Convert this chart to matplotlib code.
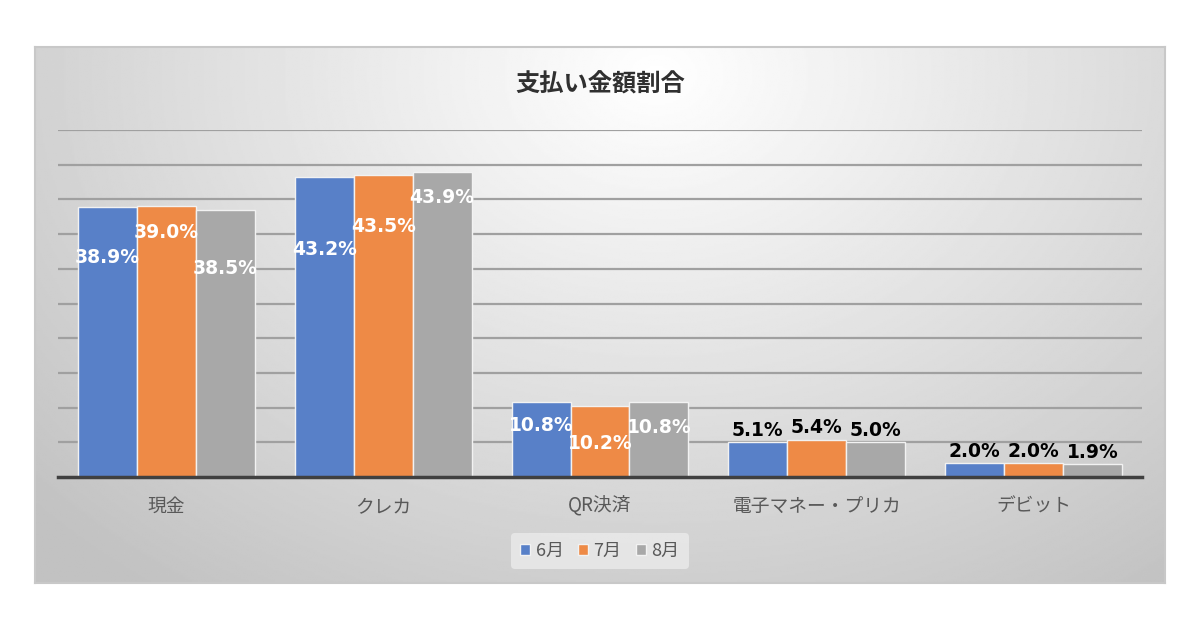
import numpy as np
import matplotlib
matplotlib.use("Agg")
import matplotlib.pyplot as plt

plt.rcParams['font.family'] = ['Noto Sans CJK JP', 'DejaVu Sans']

# データ
categories = ['現金', 'クレカ', 'QR決済', '電子マネー・プリカ', 'デビット']
months = ['6月', '7月', '8月']
june = [38.9, 43.2, 10.8, 5.1, 2.0]
july = [39.0, 43.5, 10.2, 5.4, 2.0]
august = [38.5, 43.9, 10.8, 5.0, 1.9]

colors = ['#5880C8', '#EE8A46', '#A8A8A8']

# ラベルのずれ（ポイント、バー上端から）
label_offsets = [
    [-36, -52, -17, 1.5, 1.5],
    [-19, -37, -27, 1.5, 1.5],
    [-42, -18, -18, 1.5, 1.5],
]

fig = plt.figure(figsize=(12, 6.3), dpi=100)
fig.patch.set_facecolor('white')

# 背景パネル（グラデーション）
bg = fig.add_axes([35 / 1200, 47 / 630, 1130 / 1200, 536 / 630], zorder=0)
yy, xx = np.mgrid[0:1:300j, 0:1:600j]
d = np.sqrt(((xx - 0.55) / 0.75) ** 2 + ((yy - 0.05) / 1.2) ** 2)
shade = np.clip(1.0 - 0.24 * d, 0.76, 1.0)
bg.imshow(shade, cmap='gray', vmin=0, vmax=1, aspect='auto',
          extent=[0, 1, 0, 1], origin='upper')
bg.set_xticks([])
bg.set_yticks([])
for s in bg.spines.values():
    s.set_color('#c8c8c8')
    s.set_linewidth(1.5)

ax = fig.add_axes([58 / 1200, 1 - 477 / 630, 1084 / 1200, 347 / 630], zorder=1)
ax.patch.set_alpha(0)

x = np.arange(len(categories))
w = 0.272
series = [june, july, august]
for i, (vals, c, m) in enumerate(zip(series, colors, months)):
    bars = ax.bar(x + (i - 1) * w, vals, w, color=c, edgecolor='#f2f2f2',
                  linewidth=1.0, label=m, zorder=3)
    for j, (b, v) in enumerate(zip(bars, vals)):
        off = label_offsets[i][j]
        col = 'white' if off < 0 else 'black'
        ax.annotate(f'{v:.1f}%', (b.get_x() + b.get_width() / 2, v),
                    xytext=(0, off), textcoords='offset points',
                    ha='center', va='bottom' if off > 0 else 'center',
                    fontsize=13.5, fontweight='bold', color=col, zorder=5,
                    family='DejaVu Sans')

ax.set_xlim(-0.5, len(categories) - 0.5)
ax.set_ylim(0, 50)
ax.set_yticks(np.arange(5, 51, 5))
ax.yaxis.grid(True, color='#a0a0a0', linewidth=1.6, zorder=1)
ax.set_axisbelow(True)
ax.tick_params(axis='y', left=False, labelleft=False)
ax.tick_params(axis='x', bottom=False, pad=10)
ax.set_xticks(x)
ax.set_xticklabels(categories, fontsize=13.5, color='#595959')
for s in ['top', 'right', 'left']:
    ax.spines[s].set_visible(False)
ax.spines['bottom'].set_color('#404040')
ax.spines['bottom'].set_linewidth(2.5)
ax.spines['bottom'].set_zorder(4)

fig.text(0.5, 1 - 85 / 630, '支払い金額割合', ha='center', va='center',
         fontsize=17.5, fontweight='bold', color='#303030')

leg = fig.legend(loc='center', bbox_to_anchor=(0.5, 1 - 551 / 630),
                 ncol=3, frameon=True, fontsize=13, handlelength=0.55,
                 handleheight=0.55, handletextpad=0.3, columnspacing=0.8,
                 borderpad=0.5)
leg.get_frame().set_facecolor('#ebebeb')
leg.get_frame().set_edgecolor('none')
for t in leg.get_texts():
    t.set_color('#595959')

fig.savefig('out.png', dpi=100)
